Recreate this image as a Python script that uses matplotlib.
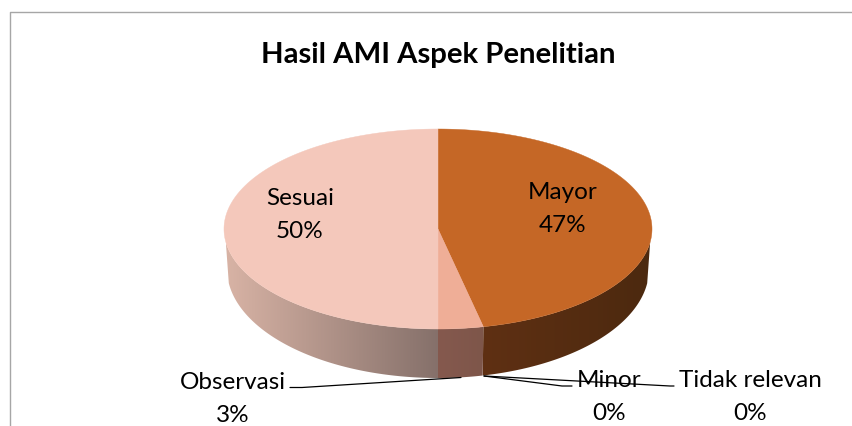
"""Hasil AMI Aspek Penelitian: 3D-looking pie drawn in pixel coordinates."""

from __future__ import annotations

import matplotlib
import numpy as np

matplotlib.use("Agg")
import matplotlib.pyplot as plt
from matplotlib.colors import LinearSegmentedColormap
from matplotlib.patches import Polygon

plt.rcParams["font.family"] = ["Lato", "DejaVu Sans"]

TITLE = "Hasil AMI Aspek Penelitian"
categories = ["Mayor", "Minor", "Tidak relevan", "Observasi", "Sesuai"]
values = [46.6, 0.0, 0.0, 3.4, 50.0]
top_colors = ["#C56726", "#E8A888", "#D9A080", "#EFAE97", "#F4C8BB"]

# wall colours at the left / right end of each slice's visible side
wall_left = {"Mayor": "#5F3013", "Observasi": "#85594E", "Sesuai": "#D8B3A5"}
wall_right = {"Mayor": "#4C290F", "Observasi": "#7E564A", "Sesuai": "#85706A"}

CX, CY, RX, RY = 438, 230, 214, 100
# lower rim is a taller, narrower ellipse because of the perspective
BOTTOM_CY, BOTTOM_RX, BOTTOM_RY = 270, 211, 109
WALL_FROM, WALL_TO = np.radians(97.5), np.radians(262.5)


def ellipse_xy(theta):
    """Clockwise angle from 12 o'clock to pixel position on the top ellipse."""
    return CX + RX * np.sin(theta), CY - RY * np.cos(theta)


def bottom_xy(theta):
    return CX + BOTTOM_RX * np.sin(theta), BOTTOM_CY - BOTTOM_RY * np.cos(theta)


def draw_wall(ax, name, start, end):
    # front side only, so clamp to the visible part of the rim
    a0, a1 = max(start, WALL_FROM), min(end, WALL_TO)
    if a1 <= a0:
        return
    angles = np.linspace(a0, a1, 200)
    x, y = ellipse_xy(angles)
    xb, yb = bottom_xy(angles)
    pts = np.column_stack([np.r_[x, xb[::-1]], np.r_[y, yb[::-1]]])
    clip = Polygon(pts, closed=True, transform=ax.transData, facecolor="none", edgecolor="none")
    ax.add_patch(clip)
    cmap = LinearSegmentedColormap.from_list(name, [wall_left[name], wall_right[name]])
    im = ax.imshow(
        np.linspace(0, 1, 256).reshape(1, -1),
        extent=(pts[:, 0].min(), pts[:, 0].max(), pts[:, 1].max(), pts[:, 1].min()),
        cmap=cmap, aspect="auto", interpolation="bilinear", zorder=1,
    )
    im.set_clip_path(clip)


def main() -> None:
    fig = plt.figure(figsize=(8.53, 4.27), dpi=100)
    ax = fig.add_axes([0, 0, 1, 1])
    ax.set_axis_off()

    bounds = np.cumsum([0.0] + values) / sum(values) * 2 * np.pi
    for name, start, end in zip(categories, bounds[:-1], bounds[1:]):
        draw_wall(ax, name, start, end)
    for color, start, end in zip(top_colors, bounds[:-1], bounds[1:]):
        if end - start <= 0:
            continue
        x, y = ellipse_xy(np.linspace(start, end, 200))
        pts = np.column_stack([np.r_[CX, x], np.r_[CY, y]])
        ax.add_patch(Polygon(pts, closed=True, facecolor=color, edgecolor=color, linewidth=0.3, zorder=2))

    ax.set_xlim(0, 853)
    ax.set_ylim(427, 0)

    # chart frame, open on the right and bottom of the crop
    ax.plot([10.5, 10.5, 853], [427, 12.5, 12.5], color="#A6A6A6", lw=1.0)

    ax.text(438, 55, TITLE, ha="center", va="center", fontsize=21.1, fontweight="bold", color="black")

    # leader lines
    line_kw = dict(color="black", lw=0.9, solid_capstyle="round", zorder=3)
    ax.plot([290, 302, 461], [388.5, 388.5, 378.5], **line_kw)
    ax.plot([484, 562, 572], [377, 387, 387], **line_kw)
    ax.plot([484, 670, 674], [377, 387, 387], **line_kw)

    # labels, percentages come from the values
    percents = {c: f"{v / sum(values):.0%}" for c, v in zip(categories, values)}
    positions = {
        "Mayor": (563, 209),
        "Sesuai": (300, 215),
        "Observasi": (233, 399),
        "Minor": (609, 397),
        "Tidak relevan": (750, 397),
    }
    for name, (x, y) in positions.items():
        ax.text(x, y, f"{name}\n{percents[name]}", ha="center", va="center",
                fontsize=17.5, color="black", linespacing=1.65, zorder=4)

    fig.savefig("out.png", dpi=100)
    plt.close(fig)


if __name__ == "__main__":
    main()
